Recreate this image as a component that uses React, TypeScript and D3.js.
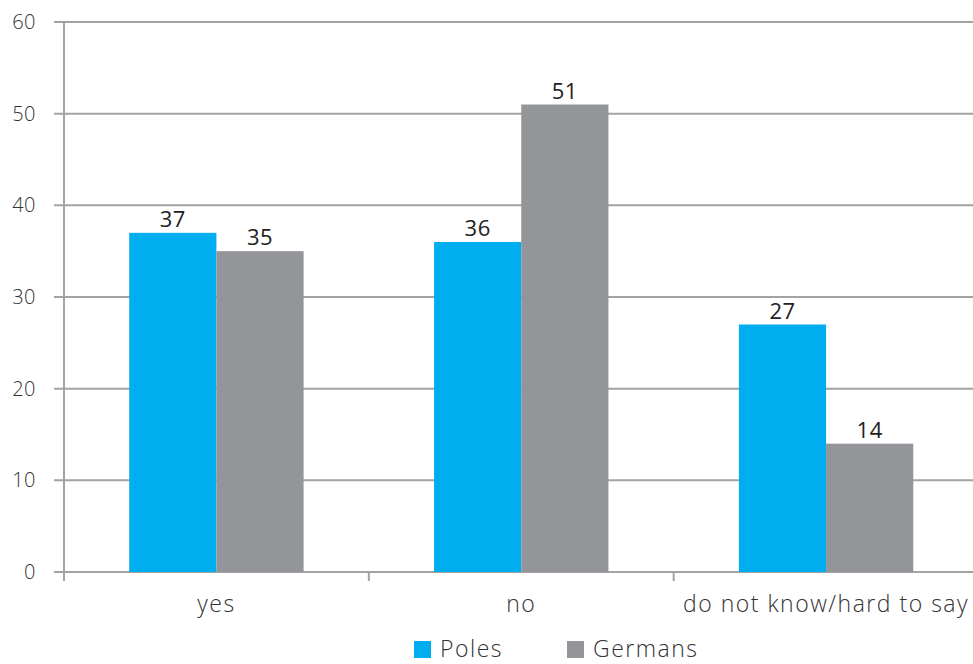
import React from "react";
import * as d3 from "d3";

const categories = ["yes", "no", "do not know/hard to say"];
const seriesNames = ["Poles", "Germans"];
const poles = [37, 36, 27];
const germans = [35, 51, 14];
const yTicks = [0, 10, 20, 30, 40, 50, 60];
const colors = ["#00AEEF", "#939598"];

const W = 973;
const H = 664;
const left = 64;
const right = 978.5;
const top = 22;
const bottom = 572;

export default function App() {
  const y = d3.scaleLinear().domain([0, 60]).range([bottom, top]);
  const x0 = d3.scaleBand<string>().domain(categories).range([left, right]).padding(0);
  const gw = x0.bandwidth() * 0.572;
  const x1 = d3.scaleBand<string>().domain(seriesNames).range([0, gw]).padding(0);
  const values = [poles, germans];
  const font = "'Open Sans', sans-serif";
  const grid = "#a3a3a3";
  return (
    <svg width={W} height={H} style={{ position: "absolute", left: 0, top: 0, background: "#fff" }}>
      {yTicks.map((t) => (
        <g key={t}>
          <line x1={54} x2={W} y1={y(t)} y2={y(t)} stroke={grid} strokeWidth={2} />
          <text x={36} y={y(t)} dy="0.35em" textAnchor="end" fontFamily={font} fontSize={20} fill="#333" fontWeight={300} letterSpacing={0.5}>
            {t}
          </text>
        </g>
      ))}
      <line x1={left} x2={left} y1={top} y2={bottom} stroke={grid} strokeWidth={2} />
      {categories.map((c, i) => (
        <line key={"t" + i} x1={x0(c)!} x2={x0(c)!} y1={bottom} y2={bottom + 9} stroke={grid} strokeWidth={2} />
      ))}
      {categories.map((c, ci) => {
        const gx = x0(c)! + (x0.bandwidth() - gw) / 2;
        return (
          <g key={c}>
            {seriesNames.map((s, si) => {
              const v = values[si][ci];
              const bx = gx + x1(s)!;
              return (
                <g key={s}>
                  <rect x={bx} y={y(v)} width={x1.bandwidth()} height={y(0) - y(v)} fill={colors[si]} />
                  <text x={bx + x1.bandwidth() / 2} y={y(v) - 6} textAnchor="middle" fontFamily={font} fontSize={22} fill="#222" fontWeight={500} letterSpacing={0.5}>
                    {v}
                  </text>
                </g>
              );
            })}
            <text x={x0(c)! + x0.bandwidth() / 2} y={612} textAnchor="middle" fontFamily={font} fontSize={23} fill="#333" fontWeight={300} letterSpacing={1.5}>
              {c}
            </text>
          </g>
        );
      })}
      {seriesNames.map((s, i) => {
        const lx = [414, 567][i];
        return (
          <g key={s}>
            <rect x={lx} y={641} width={17} height={17} fill={colors[i]} />
            <text x={lx + 26} y={657} fontFamily={font} fontSize={23} fill="#333" fontWeight={300} letterSpacing={1.5}>
              {s}
            </text>
          </g>
        );
      })}
    </svg>
  );
}
